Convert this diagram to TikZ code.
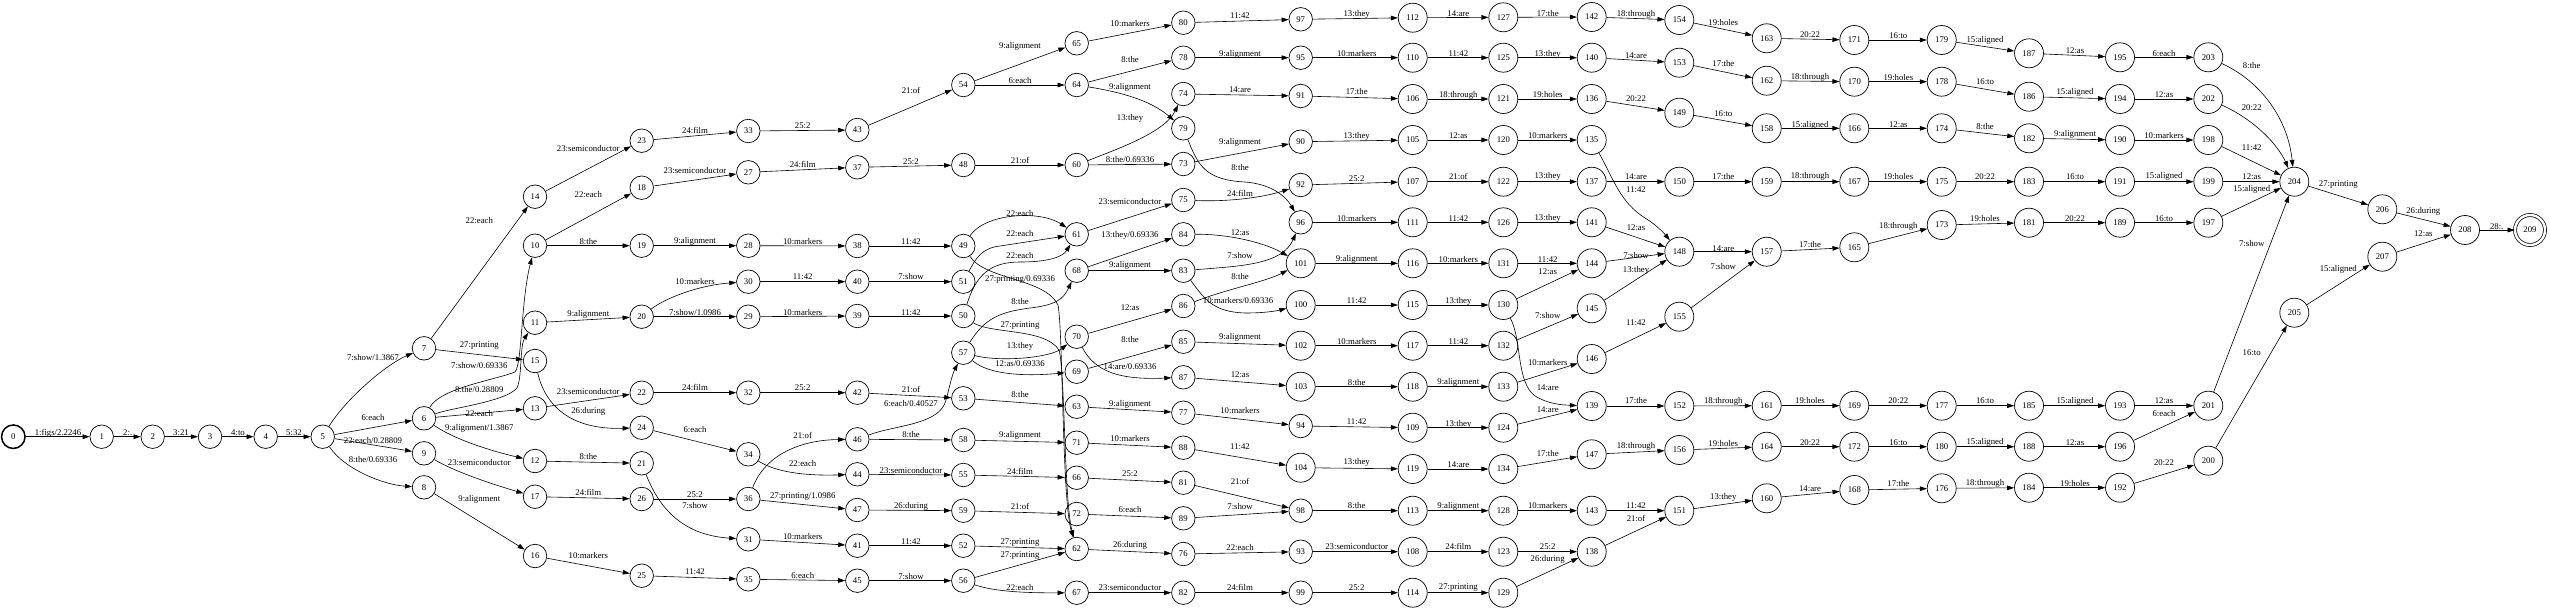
\documentclass[tikz,border=0pt]{standalone}
\usepackage{fontspec}
\setmainfont{Liberation Serif}
\usetikzlibrary{arrows.meta}
\tikzset{
 statenode/.style={circle,draw,line width=0.7pt,minimum size=23.5pt,inner sep=0pt},
 bigstate/.style={statenode,minimum size=29pt},
 edgeline/.style={line width=0.6pt,-{Triangle[length=7pt,width=4.6pt]}},
 elabel/.style={inner sep=0pt},
}
\newcommand{\mynode}[3]{\ifnum#1>99\relax\node[bigstate] (n#1) at (#2,#3) {#1};\else\node[statenode] (n#1) at (#2,#3) {#1};\fi}
\newcommand{\myedge}[5]{\draw[edgeline] (n#1) -- (n#2); \node[elabel] at (#3,#4) {#5};}
\newcommand{\mylab}[3]{\node[elabel] at (#1,#2) {#3};}
\begin{document}
\begin{tikzpicture}[x=1pt,y=-1pt,font=\fontsize{8.75}{10}\selectfont]
\useasboundingbox (0,0) rectangle (2550,610);
% nodes
\node[statenode,line width=1.5pt] (n0) at (13.3,436.7) {0};
\mynode{1}{101.7}{436.7}
\mynode{2}{152.7}{436.7}
\mynode{3}{210}{436.7}
\mynode{4}{265.7}{436.7}
\mynode{5}{322.7}{436.7}
\mynode{7}{424}{348.3}
\mynode{6}{424}{418.3}
\mynode{9}{424}{453.3}
\mynode{8}{424}{487.3}
\mynode{14}{535}{196.7}
\mynode{10}{535}{245.7}
\mynode{11}{535}{322.7}
\mynode{15}{535}{361}
\mynode{13}{535}{408.3}
\mynode{12}{535}{461}
\mynode{17}{535}{496.7}
\mynode{16}{535}{556}
\mynode{23}{641.7}{140.7}
\mynode{18}{641.7}{187.7}
\mynode{19}{641.7}{245.7}
\mynode{20}{641.7}{316.7}
\mynode{22}{641.7}{392.7}
\mynode{24}{641.7}{427.7}
\mynode{21}{641.7}{463.3}
\mynode{26}{641.7}{499}
\mynode{25}{641.7}{575.7}
\mynode{33}{748.3}{131}
\mynode{27}{748.3}{172.3}
\mynode{28}{748.3}{245.7}
\mynode{30}{748.3}{281.7}
\mynode{29}{748.3}{316.7}
\mynode{32}{748.3}{392.7}
\mynode{34}{748.3}{454.3}
\mynode{36}{748.3}{499}
\mynode{31}{748.3}{539.3}
\mynode{35}{748.3}{579.3}
\mynode{43}{857.3}{130}
\mynode{37}{857.3}{167.3}
\mynode{38}{857.3}{246}
\mynode{40}{857.3}{281.7}
\mynode{39}{857.3}{316}
\mynode{42}{857.3}{392.7}
\mynode{46}{857.3}{439.3}
\mynode{44}{857.3}{474.3}
\mynode{47}{857.3}{510}
\mynode{41}{857.3}{545.7}
\mynode{45}{857.3}{580.7}
\mynode{54}{963.3}{85}
\mynode{48}{963.3}{165}
\mynode{49}{963.3}{246}
\mynode{51}{963.3}{281.7}
\mynode{50}{963.3}{316}
\mynode{57}{963.3}{352.7}
\mynode{53}{963.3}{398.3}
\mynode{58}{963.3}{440}
\mynode{55}{963.3}{475}
\mynode{59}{963.3}{510.7}
\mynode{52}{963.3}{545.7}
\mynode{56}{963.3}{580.7}
\mynode{65}{1076.7}{43.3}
\mynode{64}{1076.7}{85}
\mynode{60}{1076.7}{165}
\mynode{61}{1076.7}{234.3}
\mynode{68}{1076.7}{270.7}
\mynode{70}{1076.7}{336.7}
\mynode{69}{1076.7}{371.7}
\mynode{63}{1076.7}{406.7}
\mynode{71}{1076.7}{442.7}
\mynode{66}{1076.7}{477.7}
\mynode{72}{1076.7}{514}
\mynode{62}{1076.7}{549}
\mynode{67}{1076.7}{592.7}
\mynode{80}{1183.3}{22.7}
\mynode{78}{1183.3}{57.7}
\mynode{74}{1183.3}{94}
\mynode{79}{1183.3}{128.3}
\mynode{73}{1183.3}{164}
\mynode{75}{1183.3}{200}
\mynode{84}{1183.3}{234.3}
\mynode{83}{1183.3}{270.7}
\mynode{86}{1183.3}{306}
\mynode{85}{1183.3}{341.7}
\mynode{87}{1183.3}{377.3}
\mynode{77}{1183.3}{412.7}
\mynode{88}{1183.3}{447.7}
\mynode{81}{1183.3}{482.7}
\mynode{89}{1183.3}{518.3}
\mynode{76}{1183.3}{554}
\mynode{82}{1183.3}{592.7}
\mynode{97}{1300.7}{19.3}
\mynode{95}{1300.7}{57.7}
\mynode{91}{1300.7}{96}
\mynode{90}{1300.7}{141.7}
\mynode{92}{1300.7}{185}
\mynode{96}{1300.7}{222.3}
\mynode{101}{1300.7}{263.3}
\mynode{100}{1300.7}{305}
\mynode{102}{1300.7}{345.7}
\mynode{103}{1300.7}{386.7}
\mynode{94}{1300.7}{426}
\mynode{104}{1300.7}{467.7}
\mynode{98}{1300.7}{510.7}
\mynode{93}{1300.7}{551.7}
\mynode{99}{1300.7}{592.7}
\mynode{112}{1412.7}{17.7}
\mynode{110}{1412.7}{57.7}
\mynode{106}{1412.7}{99}
\mynode{105}{1412.7}{140}
\mynode{107}{1412.7}{181.7}
\mynode{111}{1412.7}{222.3}
\mynode{116}{1412.7}{263.3}
\mynode{115}{1412.7}{305}
\mynode{117}{1412.7}{345.7}
\mynode{118}{1412.7}{386.7}
\mynode{109}{1412.7}{427.7}
\mynode{119}{1412.7}{469}
\mynode{113}{1412.7}{510.7}
\mynode{108}{1412.7}{551.7}
\mynode{114}{1412.7}{592.7}
\mynode{127}{1503.3}{17.3}
\mynode{125}{1503.3}{57.7}
\mynode{121}{1503.3}{99}
\mynode{120}{1503.3}{140}
\mynode{122}{1503.3}{181.7}
\mynode{126}{1503.3}{222.3}
\mynode{131}{1503.3}{263.3}
\mynode{130}{1503.3}{305}
\mynode{132}{1503.3}{345.7}
\mynode{133}{1503.3}{386.7}
\mynode{124}{1503.3}{427.7}
\mynode{134}{1503.3}{469}
\mynode{128}{1503.3}{510.7}
\mynode{123}{1503.3}{551.7}
\mynode{129}{1503.3}{592.7}
\mynode{142}{1591.7}{17}
\mynode{140}{1591.7}{57.7}
\mynode{136}{1591.7}{99}
\mynode{135}{1591.7}{140}
\mynode{137}{1591.7}{181.7}
\mynode{141}{1591.7}{222.3}
\mynode{144}{1591.7}{263.3}
\mynode{145}{1591.7}{308.3}
\mynode{146}{1591.7}{359}
\mynode{139}{1591.7}{406}
\mynode{147}{1591.7}{454.3}
\mynode{143}{1591.7}{510.7}
\mynode{138}{1591.7}{551.7}
\mynode{154}{1679.3}{20}
\mynode{153}{1679.3}{62.7}
\mynode{149}{1679.3}{112.7}
\mynode{150}{1679.3}{181.7}
\mynode{148}{1679.3}{251.7}
\mynode{155}{1679.3}{316.7}
\mynode{152}{1679.3}{406}
\mynode{156}{1679.3}{450}
\mynode{151}{1679.3}{510.7}
\mynode{163}{1766.7}{38.3}
\mynode{162}{1766.7}{80.7}
\mynode{158}{1766.7}{128.3}
\mynode{159}{1766.7}{181.7}
\mynode{157}{1766.7}{251.7}
\mynode{161}{1766.7}{405.7}
\mynode{164}{1766.7}{446.7}
\mynode{160}{1766.7}{498.3}
\mynode{171}{1854.3}{40}
\mynode{170}{1854.3}{81.7}
\mynode{166}{1854.3}{128.3}
\mynode{167}{1854.3}{181.7}
\mynode{165}{1854.3}{247.3}
\mynode{169}{1854.3}{405.7}
\mynode{172}{1854.3}{446.7}
\mynode{168}{1854.3}{490}
\mynode{179}{1941.7}{40}
\mynode{178}{1941.7}{81.7}
\mynode{174}{1941.7}{128.3}
\mynode{175}{1941.7}{181.7}
\mynode{173}{1941.7}{225}
\mynode{177}{1941.7}{405.7}
\mynode{180}{1941.7}{446.7}
\mynode{176}{1941.7}{488.3}
\mynode{187}{2029}{53.3}
\mynode{186}{2029}{96.7}
\mynode{182}{2029}{138.3}
\mynode{183}{2029}{181.7}
\mynode{181}{2029}{222.7}
\mynode{185}{2029}{405.7}
\mynode{188}{2029}{446.7}
\mynode{184}{2029}{487.7}
\mynode{195}{2120}{57.3}
\mynode{194}{2120}{99}
\mynode{190}{2120}{140}
\mynode{191}{2120}{181.7}
\mynode{189}{2120}{222.7}
\mynode{193}{2120}{405.7}
\mynode{196}{2120}{446.7}
\mynode{192}{2120}{487.7}
\mynode{203}{2208.3}{57.3}
\mynode{202}{2208.3}{99}
\mynode{198}{2208.3}{140}
\mynode{199}{2208.3}{181.7}
\mynode{197}{2208.3}{222.7}
\mynode{201}{2208.3}{405.7}
\mynode{200}{2208.3}{460.7}
\mynode{204}{2294.3}{181.7}
\mynode{205}{2294.3}{312.7}
\mynode{206}{2382.3}{209.3}
\mynode{207}{2382.3}{256.7}
\mynode{208}{2465}{230}
\node[bigstate,minimum size=30pt,double,double distance=2.4pt] (n209) at (2530,230) {209};
% edges
\myedge{0}{1}{58}{433}{1:figs/2.2246}
\myedge{1}{2}{127.7}{433}{2:.}
\myedge{2}{3}{181}{433}{3:21}
\myedge{3}{4}{238}{433}{4:to}
\myedge{4}{5}{294}{433}{5:32}
\draw[edgeline] (n5) .. controls (345,400) and (385,365) .. (n7); \mylab{373}{358}{7:show/1.3867}
\myedge{5}{6}{373}{418}{6:each}
\myedge{5}{9}{373}{441}{22:each/0.28809}
\draw[edgeline] (n5) .. controls (345,470) and (385,485) .. (n8); \mylab{373}{460}{8:the/0.69336}
\myedge{7}{14}{479.3}{220.7}{22:each}
\myedge{7}{15}{479.3}{346}{27:printing}
\draw[edgeline] (n6) .. controls (440,388) and (495,380) .. (515,372) .. controls (522,365) and (521,300) .. (n10); \mylab{479.3}{365.7}{7:show/0.69336}
\draw[edgeline] (n6) .. controls (450,408) and (505,402) .. (517,388) .. controls (522,378) and (520,345) .. (n11); \mylab{479.3}{389.3}{8:the/0.28809}
\myedge{6}{13}{479.3}{414}{22:each}
\draw[edgeline] (n6) .. controls (455,440) and (495,452) .. (n12); \mylab{479.3}{428.7}{9:alignment/1.3867}
\draw[edgeline] (n9) .. controls (455,472) and (495,485) .. (n17); \mylab{479.3}{463}{23:semiconductor}
\myedge{8}{16}{479.3}{499.3}{9:alignment}
\myedge{14}{23}{588.3}{149}{23:semiconductor}
\myedge{10}{18}{588.3}{195}{22:each}
\myedge{10}{19}{588.3}{241.7}{8:the}
\myedge{11}{20}{588.3}{314}{9:alignment}
\myedge{13}{22}{588.3}{391.7}{23:semiconductor}
\draw[edgeline] (n15) .. controls (545,405) and (570,430) .. (n24); \mylab{588.3}{411.7}{26:during}
\myedge{12}{21}{588.3}{456.7}{8:the}
\myedge{17}{26}{588.3}{492.7}{24:film}
\myedge{16}{25}{588.3}{556}{10:markers}
\myedge{23}{33}{695}{130}{24:film}
\myedge{18}{27}{695}{171}{23:semiconductor}
\myedge{19}{28}{695}{241.7}{9:alignment}
\draw[edgeline] (n20) .. controls (665,298) and (700,285) .. (n30); \mylab{695}{281.7}{10:markers}
\myedge{20}{29}{695}{312.7}{7:show/1.0986}
\myedge{22}{32}{695}{387.7}{24:film}
\myedge{24}{34}{695}{430}{6:each}
\myedge{26}{36}{695}{494.3}{25:2}
\draw[edgeline] (n21) .. controls (658,505) and (680,535) .. (n31); \mylab{695}{506}{7:show}
\myedge{25}{35}{695}{571.7}{11:42}
\myedge{33}{43}{802.7}{126}{25:2}
\myedge{27}{37}{802.7}{164}{24:film}
\myedge{28}{38}{802.7}{241.7}{10:markers}
\myedge{30}{40}{802.7}{276.7}{11:42}
\myedge{29}{39}{802.7}{312.7}{10:markers}
\myedge{32}{42}{802.7}{387.7}{25:2}
\draw[edgeline] (n36) .. controls (765,455) and (800,440) .. (n46); \mylab{802.7}{435}{21:of}
\draw[edgeline] (n34) .. controls (775,472) and (805,476) .. (n44); \mylab{802.7}{463.3}{22:each}
\myedge{36}{47}{802.7}{496.7}{27:printing/1.0986}
\myedge{31}{41}{802.7}{536.7}{10:markers}
\myedge{35}{45}{802.7}{576}{6:each}
\myedge{43}{54}{911}{90}{21:of}
\myedge{37}{48}{911}{161.3}{25:2}
\myedge{38}{49}{911}{241.7}{11:42}
\myedge{40}{51}{911}{276.7}{7:show}
\myedge{39}{50}{911}{312.7}{11:42}
\myedge{42}{53}{911}{389.3}{21:of}
\draw[edgeline] (n46) .. controls (895,425) and (940,425) .. (946,400) .. controls (950,385) and (952,375) .. (n57); \mylab{911}{404}{6:each/0.40527}
\myedge{46}{58}{911}{435}{8:the}
\myedge{44}{55}{911}{471}{23:semiconductor}
\myedge{47}{59}{911}{506}{26:during}
\myedge{41}{52}{911}{541.7}{11:42}
\myedge{45}{56}{911}{576.7}{7:show}
\myedge{54}{65}{1020}{46}{9:alignment}
\myedge{54}{64}{1020}{81}{6:each}
\myedge{48}{60}{1020}{160}{21:of}
\draw[edgeline] (n49) .. controls (985,213) and (1040,210) .. (n61); \mylab{1020}{214}{22:each}
\draw[edgeline] (n51) .. controls (976,258) and (982,248) .. (1000,246) -- (n61); \mylab{1020}{233.3}{22:each}
\draw[edgeline] (n50) .. controls (976,275) and (990,262) .. (1020,262) .. controls (1045,262) and (1062,258) .. (n61); \mylab{1020}{256}{22:each}
\draw[edgeline] (n49) .. controls (985,280) and (1045,278) .. (1058,305) .. controls (1063,330) and (1062,500) .. (n62); \mylab{1020}{280}{27:printing/0.69336}
\draw[edgeline] (n57) .. controls (985,318) and (1000,312) .. (1030,308) .. controls (1055,305) and (1063,300) .. (n68); \mylab{1020}{301.3}{8:the}
\draw[edgeline] (n50) .. controls (990,334) and (1045,328) .. (1059,350) .. controls (1065,370) and (1064,500) .. (n62); \mylab{1020}{326}{27:printing}
\draw[edgeline] (n57) .. controls (1000,362) and (1050,358) .. (n70); \mylab{1020}{346.7}{13:they}
\draw[edgeline] (n57) .. controls (990,376) and (1030,376) .. (n69); \mylab{1020}{363.3}{12:as/0.69336}
\myedge{53}{63}{1020}{395}{8:the}
\myedge{58}{71}{1020}{435}{9:alignment}
\myedge{55}{66}{1020}{471}{24:film}
\myedge{59}{72}{1020}{506}{21:of}
\myedge{52}{62}{1020}{542.3}{27:printing}
\myedge{56}{62}{1020}{556}{27:printing}
\draw[edgeline] (n56) .. controls (995,592) and (1030,593) .. (n67); \mylab{1020}{587.3}{22:each}
\myedge{65}{80}{1130}{23.3}{10:markers}
\myedge{64}{78}{1130}{59.3}{8:the}
\draw[edgeline] (n64) .. controls (1120,92) and (1150,100) .. (n79); \mylab{1130}{87.3}{9:alignment}
\draw[edgeline] (n60) .. controls (1120,148) and (1165,132) .. (n74); \mylab{1130}{118.3}{13:they}
\myedge{60}{73}{1130}{160}{8:the/0.69336}
\myedge{61}{75}{1130}{201.7}{23:semiconductor}
\myedge{68}{84}{1130}{235}{13:they/0.69336}
\myedge{68}{83}{1130}{265.7}{9:alignment}
\myedge{70}{86}{1130}{307.3}{12:as}
\myedge{69}{85}{1130}{340}{8:the}
\draw[edgeline] (n70) .. controls (1095,372) and (1120,380) .. (n87); \mylab{1130}{366.7}{14:are/0.69336}
\myedge{63}{77}{1130}{404}{9:alignment}
\myedge{71}{88}{1130}{438.3}{10:markers}
\myedge{66}{81}{1130}{474}{25:2}
\myedge{72}{89}{1130}{510}{6:each}
\myedge{62}{76}{1130}{545}{26:during}
\myedge{67}{82}{1130}{587.3}{23:semiconductor}
\myedge{80}{97}{1240}{15.7}{11:42}
\myedge{78}{95}{1240}{54}{9:alignment}
\myedge{74}{91}{1240}{89.3}{14:are}
\myedge{73}{90}{1240}{142.3}{9:alignment}
\draw[edgeline] (n79) .. controls (1198,165) and (1205,180) .. (1245,182) .. controls (1270,184) and (1285,195) .. (n96); \mylab{1240}{167.3}{8:the}
\draw[edgeline] (n75) .. controls (1230,202) and (1265,197) .. (n92); \mylab{1240}{193.3}{24:film}
\draw[edgeline] (n84) .. controls (1230,234) and (1265,243) .. (n101); \mylab{1240}{232.3}{12:as}
\draw[edgeline] (n83) .. controls (1240,266) and (1282,265) .. (n96); \mylab{1240}{256}{7:show}
\draw[edgeline] (n86) .. controls (1230,288) and (1265,282) .. (n101); \mylab{1240}{276.7}{8:the}
\draw[edgeline] (n83) .. controls (1204,298) and (1212,312) .. (1245,313) .. controls (1265,313) and (1276,311) .. (n100); \mylab{1238}{301}{10:markers/0.69336}
\myedge{85}{102}{1240}{337.7}{9:alignment}
\myedge{87}{103}{1240}{375}{12:as}
\myedge{77}{94}{1240}{411}{10:markers}
\myedge{88}{104}{1240}{446.7}{11:42}
\myedge{81}{98}{1240}{481}{21:of}
\myedge{89}{98}{1240}{506.7}{7:show}
\myedge{76}{93}{1240}{547.7}{22:each}
\myedge{82}{99}{1240}{587.3}{24:film}
\myedge{97}{112}{1356.7}{14}{13:they}
\myedge{95}{110}{1356.7}{54}{10:markers}
\myedge{91}{106}{1356.7}{91.7}{17:the}
\myedge{90}{105}{1356.7}{136}{13:they}
\myedge{92}{107}{1356.7}{178.3}{25:2}
\myedge{96}{111}{1356.7}{218.3}{10:markers}
\myedge{101}{116}{1356.7}{259.3}{9:alignment}
\myedge{100}{115}{1356.7}{301}{11:42}
\myedge{102}{117}{1356.7}{341.7}{10:markers}
\myedge{103}{118}{1356.7}{382.7}{8:the}
\myedge{94}{109}{1356.7}{421.7}{11:42}
\myedge{104}{119}{1356.7}{462.7}{13:they}
\myedge{98}{113}{1356.7}{506}{8:the}
\myedge{93}{108}{1356.7}{546.7}{23:semiconductor}
\myedge{99}{114}{1356.7}{587.3}{25:2}
\myedge{112}{127}{1458.3}{13.3}{14:are}
\myedge{110}{125}{1458.3}{54}{11:42}
\myedge{106}{121}{1458.3}{95}{18:through}
\myedge{105}{120}{1458.3}{136}{12:as}
\myedge{107}{122}{1458.3}{176.7}{21:of}
\myedge{111}{126}{1458.3}{218.3}{11:42}
\myedge{116}{131}{1458.3}{259.3}{10:markers}
\myedge{115}{130}{1458.3}{301}{13:they}
\myedge{117}{132}{1458.3}{341.7}{11:42}
\myedge{118}{133}{1458.3}{382.7}{9:alignment}
\myedge{109}{124}{1458.3}{424}{13:they}
\myedge{119}{134}{1458.3}{465}{14:are}
\myedge{113}{128}{1458.3}{506}{9:alignment}
\myedge{108}{123}{1458.3}{546.7}{24:film}
\myedge{114}{129}{1458.3}{587.3}{27:printing}
\myedge{127}{142}{1547.7}{13.3}{17:the}
\myedge{125}{140}{1547.7}{54}{13:they}
\myedge{121}{136}{1547.7}{95}{19:holes}
\myedge{120}{135}{1547.7}{136}{10:markers}
\myedge{122}{137}{1547.7}{176.7}{13:they}
\myedge{126}{141}{1547.7}{218.3}{13:they}
\myedge{131}{144}{1547.7}{259.3}{11:42}
\myedge{130}{144}{1547.7}{271.7}{12:as}
\myedge{132}{145}{1547.7}{316}{7:show}
\myedge{133}{146}{1547.7}{362.7}{10:markers}
\draw[edgeline] (n130) .. controls (1522,340) and (1516,382) .. (1535,396) .. controls (1548,404) and (1562,405) .. (n139); \mylab{1547.7}{387.3}{14:are}
\myedge{124}{139}{1547.7}{409.3}{14:are}
\myedge{134}{147}{1547.7}{454}{17:the}
\myedge{128}{143}{1547.7}{506}{10:markers}
\myedge{123}{138}{1547.7}{546.7}{25:2}
\myedge{129}{138}{1547.7}{559.3}{26:during}
\myedge{142}{154}{1636}{14}{18:through}
\myedge{140}{153}{1636}{56}{14:are}
\myedge{136}{149}{1636}{98.3}{20:22}
\myedge{137}{150}{1636}{176.7}{14:are}
\draw[edgeline] (n135) .. controls (1614,180) and (1620,202) .. (1645,218) .. controls (1655,224) and (1663,232) .. (n148); \mylab{1636}{189.3}{11:42}
\myedge{141}{148}{1636}{227.3}{12:as}
\myedge{144}{148}{1636}{256}{7:show}
\myedge{145}{148}{1636}{270}{13:they}
\myedge{146}{155}{1636}{322.7}{11:42}
\myedge{139}{152}{1636}{401}{17:the}
\myedge{147}{156}{1636}{446.7}{18:through}
\myedge{143}{151}{1636}{506}{11:42}
\myedge{138}{151}{1636}{518.3}{21:of}
\myedge{154}{163}{1723.3}{22.7}{19:holes}
\myedge{153}{162}{1723.3}{63.3}{17:the}
\myedge{149}{158}{1723.3}{113.3}{16:to}
\myedge{150}{159}{1723.3}{176.7}{17:the}
\myedge{148}{157}{1723.3}{248.3}{14:are}
\myedge{155}{157}{1723.3}{266.7}{7:show}
\myedge{152}{161}{1723.3}{401}{18:through}
\myedge{156}{164}{1723.3}{444}{19:holes}
\myedge{151}{160}{1723.3}{497.3}{13:they}
\myedge{163}{171}{1810}{35}{20:22}
\myedge{162}{170}{1810}{77.3}{18:through}
\myedge{158}{166}{1810}{125}{15:aligned}
\myedge{159}{167}{1810}{176.7}{18:through}
\myedge{157}{165}{1810}{245}{17:the}
\myedge{161}{169}{1810}{401}{19:holes}
\myedge{164}{172}{1810}{442.3}{20:22}
\myedge{160}{168}{1810}{488.3}{14:are}
\myedge{171}{179}{1898.3}{36}{16:to}
\myedge{170}{178}{1898.3}{77.3}{19:holes}
\myedge{166}{174}{1898.3}{125}{12:as}
\myedge{167}{175}{1898.3}{176.7}{19:holes}
\myedge{165}{173}{1898.3}{226.7}{18:through}
\myedge{169}{177}{1898.3}{401}{20:22}
\myedge{172}{180}{1898.3}{442.3}{16:to}
\myedge{168}{176}{1898.3}{484}{17:the}
\myedge{179}{187}{1985}{40}{15:aligned}
\myedge{178}{186}{1985}{81.7}{16:to}
\myedge{174}{182}{1985}{126.7}{8:the}
\myedge{175}{183}{1985}{176.7}{20:22}
\myedge{173}{181}{1985}{219}{19:holes}
\myedge{177}{185}{1985}{401}{16:to}
\myedge{180}{188}{1985}{442.3}{15:aligned}
\myedge{176}{184}{1985}{483.3}{18:through}
\myedge{187}{195}{2075}{50.7}{12:as}
\myedge{186}{194}{2075}{92.7}{15:aligned}
\myedge{182}{190}{2075}{134.3}{9:alignment}
\myedge{183}{191}{2075}{176.7}{16:to}
\myedge{181}{189}{2075}{219}{20:22}
\myedge{185}{193}{2075}{401}{15:aligned}
\myedge{188}{196}{2075}{442.3}{12:as}
\myedge{184}{192}{2075}{483.3}{19:holes}
\myedge{195}{203}{2164}{54}{6:each}
\myedge{194}{202}{2164}{95}{12:as}
\myedge{190}{198}{2164}{136}{10:markers}
\myedge{191}{199}{2164}{176.7}{15:aligned}
\myedge{189}{197}{2164}{218.3}{16:to}
\myedge{193}{201}{2164}{400.7}{12:as}
\myedge{196}{201}{2164}{413.3}{6:each}
\myedge{192}{200}{2164}{462.7}{20:22}
\draw[edgeline] (n203) .. controls (2262,82) and (2288,120) .. (n204); \mylab{2251.7}{66}{8:the}
\draw[edgeline] (n202) .. controls (2255,120) and (2278,145) .. (n204); \mylab{2251.7}{107.7}{20:22}
\myedge{198}{204}{2251.7}{147.7}{11:42}
\myedge{199}{204}{2251.7}{176.7}{12:as}
\myedge{197}{204}{2251.7}{189}{15:aligned}
\myedge{201}{204}{2251.7}{243.3}{7:show}
\myedge{200}{205}{2251.7}{352.3}{16:to}
\myedge{204}{206}{2338.3}{185}{27:printing}
\myedge{205}{207}{2338.3}{269}{15:aligned}
\myedge{206}{208}{2423.3}{211}{26:during}
\myedge{207}{208}{2423.3}{234}{12:as}
\myedge{208}{209}{2496.7}{226.7}{28:.}
\end{tikzpicture}
\end{document}
